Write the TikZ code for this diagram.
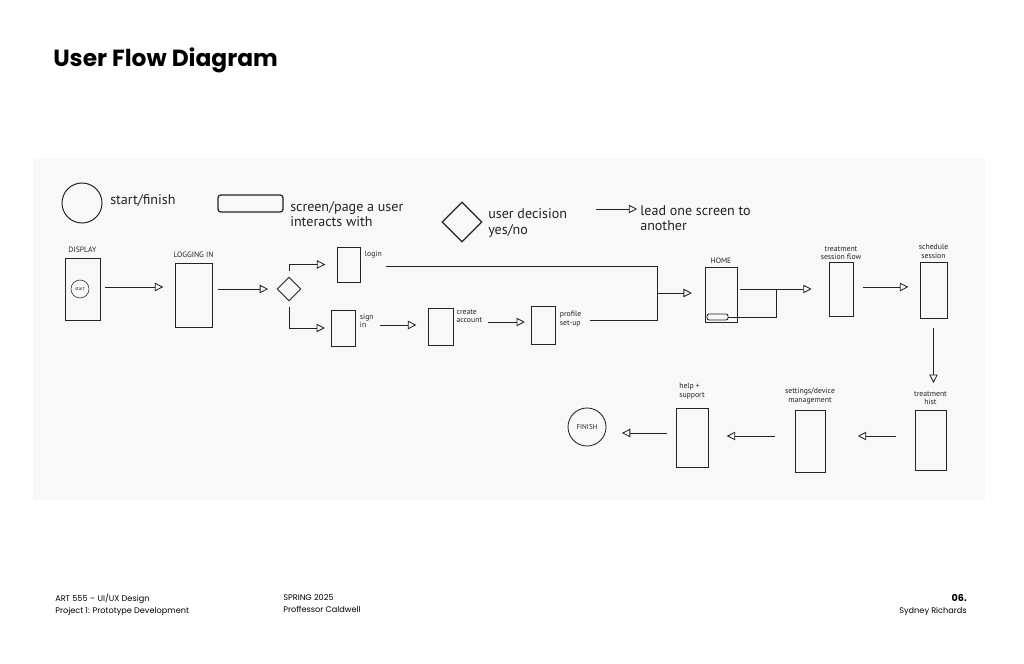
\documentclass[tikz,border=0pt]{standalone}
\usepackage{fontspec}
\setmainfont{Poppins}
\newfontfamily\sketchfont{PT Sans}
\usetikzlibrary{arrows.meta,shapes.geometric,positioning}

\definecolor{paper}{RGB}{248,248,248}
\definecolor{pencil}{RGB}{35,35,35}

\tikzset{
  screen/.style={draw=pencil, rectangle, line width=0.6pt, inner sep=0pt},
  hand/.style={font=\sketchfont\fontsize{5.5}{6}\selectfont, text=pencil, align=left, inner sep=0pt},
  legend/.style={font=\sketchfont\fontsize{10}{11}\selectfont, text=pencil, align=left, inner sep=0pt, anchor=west},
  wire/.style={draw=pencil, line width=0.6pt},
  flow/.style={wire, -{Triangle[open, length=6pt, width=6pt]}},
  footer/.style={font=\fontsize{5.8}{7}\selectfont, inner sep=0pt, align=left}
}

\begin{document}
\begin{tikzpicture}[x=0.025cm, y=-0.025cm]
    \useasboundingbox (0,0) rectangle (1024,663);
    \fill[paper] (33,158) rectangle (985,500);

    \node[font=\bfseries\fontsize{16.6}{18}\selectfont, anchor=base west, inner sep=0pt] (title) at (53,67) {User Flow Diagram};

    % key
    \node[circle, draw=pencil, line width=0.7pt, minimum size=1cm, inner sep=0pt] (keystart) at (82,203) {};
    \node[legend] (keystarttxt) at (110,200) {start/finish};
    \node[screen, rounded corners=2pt, line width=0.9pt, minimum width=1.625cm, minimum height=0.425cm] (keyscreen) at (250.5,203.5) {};
    \node[legend] (keyscreentxt) at (290,214) {screen/page a user\\interacts with};
    \node[diamond, draw=pencil, line width=0.9pt, minimum size=1cm, inner sep=0pt] (keydecision) at (462,222) {};
    \node[legend] (keydecisiontxt) at (488,223) {user decision\\yes/no};
    \coordinate (keyfrom) at (596,209);
    \node[legend] (keyflowtxt) at (640,218) {lead one screen to\\another};
    \draw[flow, shorten >=2pt] (keyfrom) -- (keyflowtxt.west |- keyfrom);

    % top row
    \node[screen, minimum width=0.875cm, minimum height=1.55cm] (display) at (82.5,289) {};
    \node[hand, above=3pt of display] (displaylbl) {DISPLAY};
    \node[circle, draw=pencil, minimum size=0.45cm, inner sep=0pt, hand, font=\sketchfont\fontsize{3.5}{4}\selectfont] (startbtn) at (80,289) {start};

    \node[screen, minimum width=0.925cm, minimum height=1.6cm] (loading) at (193.5,295) {};
    \node[hand, above=3pt of loading] (loadinglbl) {LOGGING IN};

    \node[diamond, draw=pencil, line width=0.6pt, minimum size=0.6cm, inner sep=0pt] (decision) at (289,289) {};

    \node[screen, minimum width=0.575cm, minimum height=0.875cm] (login) at (348.5,264.5) {};
    \node[hand, anchor=north west] (loginlbl) at ([xshift=3pt, yshift=-3pt]login.north east) {login};

    \node[screen, minimum width=0.6cm, minimum height=0.9cm] (signin) at (343,328) {};
    \node[hand, anchor=north west] (signinlbl) at ([xshift=3pt, yshift=-3pt]signin.north east) {sign\\in};

    \node[screen, minimum width=0.625cm, minimum height=0.925cm] (create) at (440.5,326.5) {};
    \node[hand, anchor=north west] (createlbl) at ([xshift=2pt, yshift=-1pt]create.north east) {create\\account};

    \node[screen, minimum width=0.6cm, minimum height=0.95cm] (profile) at (543,325) {};
    \node[hand, anchor=north west] (profilelbl) at ([xshift=3pt, yshift=-4pt]profile.north east) {profile\\set-up};

    \coordinate (junc) at (657,293);

    \node[screen, minimum width=0.8cm, minimum height=1.375cm] (home) at (721,294.5) {};
    \node[hand, above=2pt of home] (homelbl) {HOME};
    \node[screen, rounded corners=1.5pt, minimum width=0.525cm, minimum height=0.15cm] (homebar) at (717.5,317) {};
    \coordinate (hmerge) at (776,289);

    \node[screen, minimum width=0.6cm, minimum height=1.35cm] (session) at (841,289) {};
    \node[hand, align=center, above=1pt of session] (sessionlbl) {treatment\\session flow};

    \node[screen, minimum width=0.675cm, minimum height=1.4cm] (schedule) at (933.5,290) {};
    \node[hand, align=center, above=2pt of schedule] (schedulelbl) {schedule\\session};

    % bottom row
    \node[screen, minimum width=0.775cm, minimum height=1.5cm] (history) at (930.5,440) {};
    \node[hand, align=center, above=3pt of history] (historylbl) {treatment\\hist};

    \node[screen, minimum width=0.75cm, minimum height=1.55cm] (settings) at (810,441) {};
    \node[hand, align=center, above=4pt of settings] (settingslbl) {settings/device\\management};

    \node[screen, minimum width=0.8cm, minimum height=1.475cm] (help) at (692,437.5) {};
    \node[hand, align=left, above=6pt of help] (helplbl) {help +\\support};

    \node[circle, draw=pencil, line width=0.6pt, minimum size=0.95cm, inner sep=0pt, hand, font=\sketchfont\fontsize{5}{6}\selectfont] (finish) at (587,427) {FINISH};

    % connectors
    \draw[flow, shorten <=3pt, shorten >=8pt] (display.east |- 0,287) -- (loading.west |- 0,287);
    \draw[flow, shorten <=4pt, shorten >=6pt] (loading.east |- decision) -- (decision.west);
    \draw[flow, shorten <=4pt, shorten >=8pt] (decision.north) |- (login.west);
    \draw[flow, shorten <=4pt, shorten >=4pt] (decision.south) |- (signin.west);
    \draw[flow, shorten <=4pt, shorten >=8pt] (signinlbl.east |- 0,325) -- (create.west |- 0,325);
    \draw[flow, shorten <=4pt, shorten >=4pt] (createlbl.east |- 0,322) -- (profile.west |- 0,322);
    \draw[wire, shorten <=3pt] (loginlbl.east |- 0,266) -| (junc);
    \draw[wire, shorten <=6pt] (profilelbl.east |- 0,320) -| (junc);
    \draw[flow, shorten >=9pt] (junc) -- (home.west |- junc);
    \draw[flow, shorten <=2pt, shorten >=12pt] (home.east |- hmerge) -- (session.west |- hmerge);
    \draw[wire] (homebar.east) -| (hmerge);
    \draw[flow, shorten <=7pt, shorten >=8pt] (session.east |- 0,287) -- (schedule.west |- 0,287);
    \draw[flow, shorten <=7pt, shorten >=6pt] (schedule.south) -- (historylbl.north -| schedule.south);
    \draw[flow, shorten <=13pt, shorten >=23pt] (history.west |- 0,436) -- (settings.east |- 0,436);
    \draw[flow, shorten <=14pt, shorten >=13pt] (settings.west |- 0,436) -- (help.east |- 0,436);
    \draw[flow, shorten <=6pt, shorten >=11pt] (help.west |- 0,433) -- (finish.east |- 0,433);

    % footer
    \node[footer, anchor=north west] (course) at (55,594) {ART 555 -- UI/UX Design\\[1.5pt]Project 1: Prototype Development};
    \node[footer, anchor=north west] (term) at (283,594) {SPRING 2025\\[1.5pt]Proffessor Caldwell};
    \node[footer, align=right, anchor=north east] (page) at (967,594) {\textbf{\fontsize{6.8}{7}\selectfont 06.}\\[1.5pt]Sydney Richards};
\end{tikzpicture}
\end{document}
